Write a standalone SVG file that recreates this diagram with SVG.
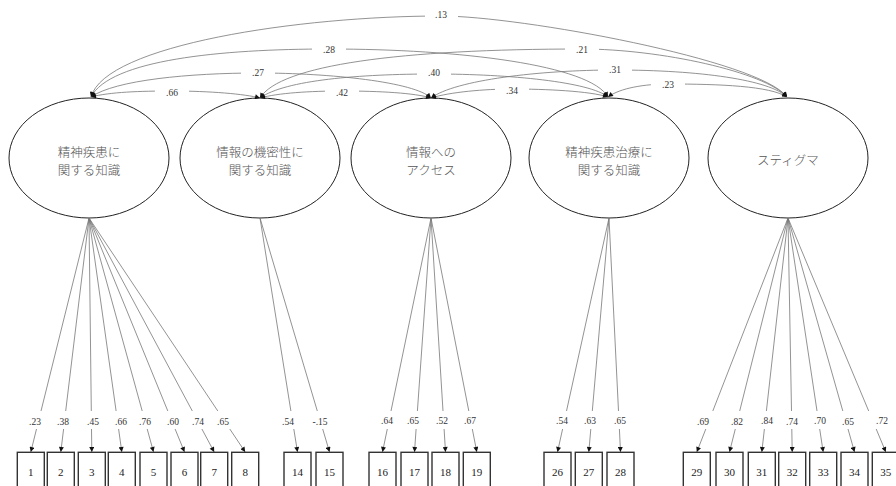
<svg xmlns="http://www.w3.org/2000/svg" width="896" height="486" viewBox="0 0 896 486">
<style>
.lat ellipse{fill:#fff;stroke:#222;stroke-width:1}
.lat text{font-family:"Noto Sans CJK JP","Noto Sans",sans-serif;font-size:12.5px;font-weight:300;fill:#555;text-anchor:middle}
.obs rect{fill:#fff;stroke:#333;stroke-width:1.4}
.obs text{font-family:"Liberation Serif","Times New Roman",serif;font-size:11px;fill:#222;text-anchor:middle}
.cov{fill:none;stroke:#777;stroke-width:0.8;marker-start:url(#ah);marker-end:url(#ah)}
.ld{fill:none;stroke:#777;stroke-width:0.8}
.ldh{fill:none;stroke:#777;stroke-width:0.8;marker-end:url(#ah2)}
.lbl{font-family:"Liberation Serif","Times New Roman",serif;font-size:9.5px;fill:#333;text-anchor:middle}
.bg{fill:#fff}
</style>
<defs>
<marker id="ah" viewBox="0 0 10 10" refX="10" refY="5" markerWidth="7" markerHeight="5" orient="auto-start-reverse" markerUnits="userSpaceOnUse"><path d="M0,0 L10,5 L0,10 z" fill="#111"/></marker>
<marker id="ah2" viewBox="0 0 10 10" refX="10" refY="5" markerWidth="6.5" markerHeight="5" orient="auto" markerUnits="userSpaceOnUse"><path d="M0,0 L10,5 L0,10 z" fill="#111"/></marker>
</defs>

<g id="latent-1" class="lat"><ellipse cx="89" cy="158" rx="80" ry="60"/><text x="89" y="156.5">精神疾患に</text><text x="89" y="174.5">関する知識</text></g>
<g id="latent-2" class="lat"><ellipse cx="260" cy="158" rx="80" ry="60"/><text x="260" y="156.5">情報の機密性に</text><text x="260" y="174.5">関する知識</text></g>
<g id="latent-3" class="lat"><ellipse cx="431" cy="158" rx="80" ry="60"/><text x="431" y="156.5">情報への</text><text x="431" y="174.5">アクセス</text></g>
<g id="latent-4" class="lat"><ellipse cx="609" cy="158" rx="80" ry="60"/><text x="609" y="156.5">精神疾患治療に</text><text x="609" y="174.5">関する知識</text></g>
<g id="latent-5" class="lat"><ellipse cx="788" cy="158" rx="80" ry="60"/><text x="788" y="165">スティグマ</text></g>

<g id="obs-1" class="obs"><rect x="17.3" y="452.3" width="27" height="40"/><text x="30.8" y="476.3">1</text></g>
<g id="obs-2" class="obs"><rect x="47.3" y="452.3" width="27" height="40"/><text x="60.8" y="476.3">2</text></g>
<g id="obs-3" class="obs"><rect x="78.3" y="452.3" width="27" height="40"/><text x="91.8" y="476.3">3</text></g>
<g id="obs-4" class="obs"><rect x="108.3" y="452.3" width="27" height="40"/><text x="121.8" y="476.3">4</text></g>
<g id="obs-5" class="obs"><rect x="140" y="452.3" width="27" height="40"/><text x="153.5" y="476.3">5</text></g>
<g id="obs-6" class="obs"><rect x="171" y="452.3" width="27" height="40"/><text x="184.5" y="476.3">6</text></g>
<g id="obs-7" class="obs"><rect x="200.7" y="452.3" width="27" height="40"/><text x="214.2" y="476.3">7</text></g>
<g id="obs-8" class="obs"><rect x="231.7" y="452.3" width="27" height="40"/><text x="245.2" y="476.3">8</text></g>
<g id="obs-14" class="obs"><rect x="284" y="452.3" width="27" height="40"/><text x="297.5" y="476.3">14</text></g>
<g id="obs-15" class="obs"><rect x="316" y="452.3" width="27" height="40"/><text x="329.5" y="476.3">15</text></g>
<g id="obs-16" class="obs"><rect x="369" y="452.3" width="27" height="40"/><text x="382.5" y="476.3">16</text></g>
<g id="obs-17" class="obs"><rect x="401" y="452.3" width="27" height="40"/><text x="414.5" y="476.3">17</text></g>
<g id="obs-18" class="obs"><rect x="432" y="452.3" width="27" height="40"/><text x="445.5" y="476.3">18</text></g>
<g id="obs-19" class="obs"><rect x="463.3" y="452.3" width="27" height="40"/><text x="476.8" y="476.3">19</text></g>
<g id="obs-26" class="obs"><rect x="544" y="452.3" width="27" height="40"/><text x="557.5" y="476.3">26</text></g>
<g id="obs-27" class="obs"><rect x="575.3" y="452.3" width="27" height="40"/><text x="588.8" y="476.3">27</text></g>
<g id="obs-28" class="obs"><rect x="607" y="452.3" width="27" height="40"/><text x="620.5" y="476.3">28</text></g>
<g id="obs-29" class="obs"><rect x="683.3" y="452.3" width="27" height="40"/><text x="696.8" y="476.3">29</text></g>
<g id="obs-30" class="obs"><rect x="716" y="452.3" width="27" height="40"/><text x="729.5" y="476.3">30</text></g>
<g id="obs-31" class="obs"><rect x="748.3" y="452.3" width="27" height="40"/><text x="761.8" y="476.3">31</text></g>
<g id="obs-32" class="obs"><rect x="778.7" y="452.3" width="27" height="40"/><text x="792.2" y="476.3">32</text></g>
<g id="obs-33" class="obs"><rect x="809.7" y="452.3" width="27" height="40"/><text x="823.2" y="476.3">33</text></g>
<g id="obs-34" class="obs"><rect x="841" y="452.3" width="27" height="40"/><text x="854.5" y="476.3">34</text></g>
<g id="obs-35" class="obs"><rect x="872.3" y="452.3" width="27" height="40"/><text x="885.8" y="476.3">35</text></g>

<g id="connectors">
<g id="covariances">
<path class="cov" d="M91,97 C110,92 140,91 172,91 C210,91 245,94 260,98"/>
<path class="cov" d="M91,97 C115,80 190,73 258,73 C330,73 415,82 431,98"/>
<path class="cov" d="M91,97 C110,60 220,49 329,49 C460,49 590,65 608,97"/>
<path class="cov" d="M91,97 C105,45 300,16 441,16 C520,16 760,60 787,97"/>
<path class="cov" d="M260,98 C278,93 310,91 342,91 C380,91 415,93 431,98"/>
<path class="cov" d="M260,98 C285,80 360,74 434,74 C510,74 590,82 608,97"/>
<path class="cov" d="M260,98 C280,65 400,49 582,49 C660,49 765,72 787,97"/>
<path class="cov" d="M431,98 C450,92 485,89 512,89 C545,89 590,91 608,97"/>
<path class="cov" d="M431,98 C455,80 540,70 615,70 C700,70 770,80 787,97"/>
<path class="cov" d="M608,97 C620,88 645,84 668,84 C720,84 770,86 787,97"/>
</g>
<g id="cov-labels">
<rect class="bg" x="155" y="85" width="34" height="11"/><text class="lbl" x="172" y="96.1">.66</text>
<rect class="bg" x="241" y="67" width="34" height="11"/><text class="lbl" x="258" y="76.1">.27</text>
<rect class="bg" x="312" y="43.5" width="34" height="11"/><text class="lbl" x="329" y="53.1">.28</text>
<rect class="bg" x="425" y="10" width="33" height="11"/><text class="lbl" x="441" y="17.6">.13</text>
<rect class="bg" x="325" y="85" width="34" height="11"/><text class="lbl" x="342" y="96.1">.42</text>
<rect class="bg" x="417" y="68" width="34" height="11"/><text class="lbl" x="434" y="76.1">.40</text>
<rect class="bg" x="565" y="43.5" width="34" height="11"/><text class="lbl" x="582" y="53.1">.21</text>
<rect class="bg" x="495" y="83" width="34" height="11"/><text class="lbl" x="512" y="94.1">.34</text>
<rect class="bg" x="598" y="64" width="34" height="11"/><text class="lbl" x="615" y="73.1">.31</text>
<rect class="bg" x="651" y="78.5" width="34" height="11"/><text class="lbl" x="668" y="88.1">.23</text>
</g>
<g id="loadings">
<path class="ld" d="M89,218 L41.0,411 M89,218 L65.7,411 M89,218 L91.3,411 M89,218 L116.1,411 M89,218 L142.2,411 M89,218 L167.8,411 M89,218 L192.3,411 M89,218 L217.8,411"/>
<path class="ldh" d="M36.5,429 L30.8,452"/>
<path class="ldh" d="M63.6,429 L60.8,452"/>
<path class="ldh" d="M91.5,429 L91.8,452"/>
<path class="ldh" d="M118.6,429 L121.8,452"/>
<path class="ldh" d="M147.2,429 L153.5,452"/>
<path class="ldh" d="M175.1,429 L184.5,452"/>
<path class="ldh" d="M201.9,429 L214.2,452"/>
<path class="ldh" d="M229.8,429 L245.2,452"/>
<path class="ld" d="M260,218 L290.9,411 M260,218 L317.3,411"/>
<path class="ldh" d="M293.8,429 L297.5,452"/>
<path class="ldh" d="M322.7,429 L329.5,452"/>
<path class="ld" d="M431,218 L391.0,411 M431,218 L417.4,411 M431,218 L443.0,411 M431,218 L468.8,411"/>
<path class="ldh" d="M387.3,429 L382.5,452"/>
<path class="ldh" d="M416.1,429 L414.5,452"/>
<path class="ldh" d="M444.1,429 L445.5,452"/>
<path class="ldh" d="M472.3,429 L476.8,452"/>
<path class="ld" d="M609,218 L566.5,411 M609,218 L592.3,411 M609,218 L618.5,411"/>
<path class="ldh" d="M562.6,429 L557.5,452"/>
<path class="ldh" d="M590.8,429 L588.8,452"/>
<path class="ldh" d="M619.4,429 L620.5,452"/>
<path class="ld" d="M788,218 L712.8,411 M788,218 L739.7,411 M788,218 L766.4,411 M788,218 L791.5,411 M788,218 L817.0,411 M788,218 L842.8,411 M788,218 L868.7,411"/>
<path class="ldh" d="M705.8,429 L696.8,452"/>
<path class="ldh" d="M735.3,429 L729.5,452"/>
<path class="ldh" d="M764.4,429 L761.8,452"/>
<path class="ldh" d="M791.8,429 L792.2,452"/>
<path class="ldh" d="M819.7,429 L823.2,452"/>
<path class="ldh" d="M848.0,429 L854.5,452"/>
<path class="ldh" d="M876.2,429 L885.8,452"/>
</g>
<g id="loading-labels">
<text class="lbl" x="35" y="424.6">.23</text>
<text class="lbl" x="63" y="424.6">.38</text>
<text class="lbl" x="93" y="424.6">.45</text>
<text class="lbl" x="121" y="424.6">.66</text>
<text class="lbl" x="145" y="424.6">.76</text>
<text class="lbl" x="173" y="424.6">.60</text>
<text class="lbl" x="198" y="424.6">.74</text>
<text class="lbl" x="223" y="424.6">.65</text>
<text class="lbl" x="288" y="424.6">.54</text>
<text class="lbl" x="320" y="424.6">-.15</text>
<text class="lbl" x="387" y="424">.64</text>
<text class="lbl" x="413" y="424">.65</text>
<text class="lbl" x="442" y="424">.52</text>
<text class="lbl" x="470" y="424">.67</text>
<text class="lbl" x="562" y="424">.54</text>
<text class="lbl" x="590" y="424">.63</text>
<text class="lbl" x="620" y="424">.65</text>
<text class="lbl" x="703" y="424.6">.69</text>
<text class="lbl" x="737" y="424.6">.82</text>
<text class="lbl" x="767" y="424">.84</text>
<text class="lbl" x="792" y="424.6">.74</text>
<text class="lbl" x="820" y="424">.70</text>
<text class="lbl" x="848" y="424.6">.65</text>
<text class="lbl" x="882" y="424">.72</text>
</g>
</g>
</svg>
